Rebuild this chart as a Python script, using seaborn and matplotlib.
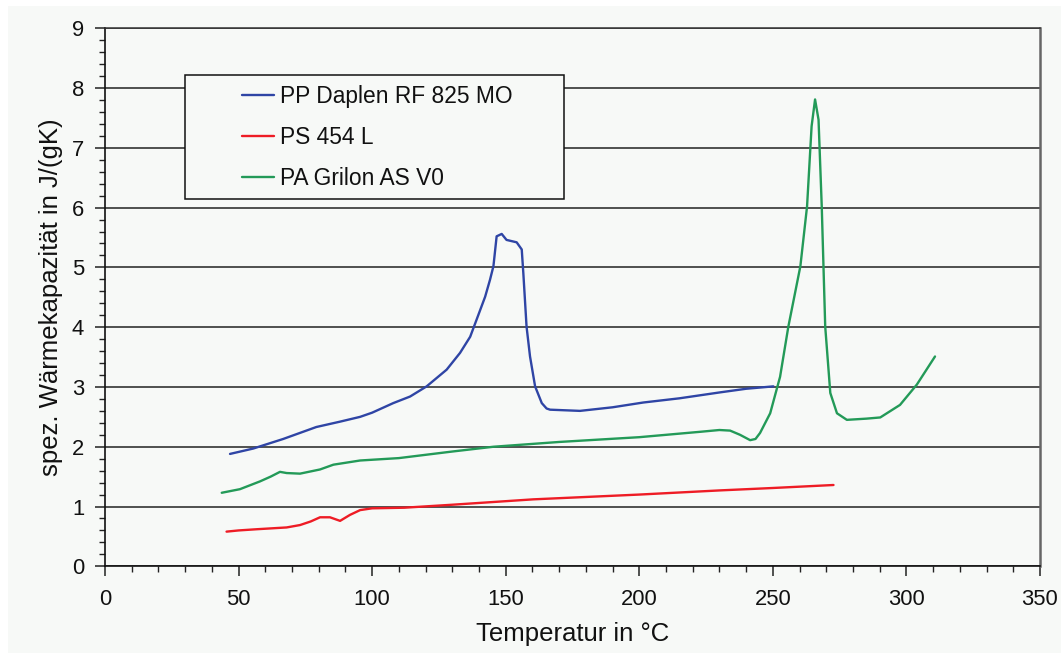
import matplotlib
matplotlib.use("Agg")
import matplotlib.pyplot as plt
from matplotlib.patches import Rectangle
from matplotlib.ticker import MultipleLocator
import seaborn as sns
import pandas as pd

# ---- data ----
pp_label = "PP Daplen RF 825 MO"
pp_x = [46.8, 55.5, 66.7, 79.1, 88.0, 95.5, 100, 107.9, 114.2, 120.4, 127.9, 132.9, 136.7,
        139.8, 142.3, 144.1, 145.4, 146.6, 148.5, 150.3, 154.1, 156.0, 156.6, 157.8, 159.1,
        161.0, 163.5, 165.3, 166.6, 177.8, 190, 201.5, 215, 230.3, 240, 250.2]
pp_y = [1.88, 1.97, 2.13, 2.33, 2.42, 2.50, 2.57, 2.73, 2.84, 3.01, 3.29, 3.57, 3.84,
        4.21, 4.51, 4.79, 5.02, 5.52, 5.56, 5.46, 5.42, 5.30, 4.90, 4.01, 3.51,
        3.01, 2.73, 2.64, 2.62, 2.60, 2.66, 2.74, 2.81, 2.91, 2.97, 3.01]

ps_label = "PS 454 L"
ps_x = [45.5, 50, 56.8, 68.0, 73.0, 77, 80.5, 84.2, 88.0, 91.7, 95.5, 100, 112, 130, 160.3,
        200, 230.3, 250, 272.7]
ps_y = [0.58, 0.60, 0.62, 0.65, 0.69, 0.75, 0.82, 0.82, 0.76, 0.86, 0.94, 0.97, 0.98, 1.03,
        1.12, 1.20, 1.27, 1.31, 1.36]

pa_label = "PA Grilon AS V0"
pa_x = [43.7, 50.5, 58.0, 62, 65.5, 68.0, 73.0, 80.5, 85.5, 95.5, 110, 130, 145.4, 170, 200,
        222.8, 230, 234, 237.7, 241.5, 243.5, 245.2, 249, 252.7, 255.8, 260.3, 262.8, 264.5,
        265.8, 267.1, 268.3, 269.6, 271.5, 274.0, 277.7, 285, 290.2, 297.6, 303.9, 310.7]
pa_y = [1.23, 1.29, 1.42, 1.50, 1.58, 1.56, 1.55, 1.62, 1.70, 1.77, 1.81, 1.92, 2.00, 2.08,
        2.16, 2.25, 2.28, 2.27, 2.20, 2.11, 2.13, 2.23, 2.56, 3.17, 4.01, 5.02, 6.02, 7.36,
        7.81, 7.47, 6.02, 4.01, 2.90, 2.56, 2.45, 2.47, 2.49, 2.70, 3.04, 3.51]

x_label = "Temperatur in °C"
y_label = "spez. Wärmekapazität in J/(gK)"
x_ticks = [0, 50, 100, 150, 200, 250, 300, 350]
y_ticks = [0, 1, 2, 3, 4, 5, 6, 7, 8, 9]

colors = {pp_label: "#2f45a5", ps_label: "#ee1c25", pa_label: "#239a58"}

# ---- style ----
sns.set_theme(style="white")
plt.rcParams["font.family"] = ["Liberation Sans", "DejaVu Sans"]
bg = "#f7f9f7"

W, H = 1061, 653
fig = plt.figure(figsize=(W / 100, H / 100), dpi=100, facecolor="white")
fig.patches.append(Rectangle((8 / W, 0), 1 - 8 / W, 1 - 6 / H, transform=fig.transFigure,
                             facecolor=bg, edgecolor="none", zorder=-10))

ax = fig.add_axes([105 / W, (H - 566.3) / H, (1040 - 105) / W, (566.3 - 28.3) / H])
ax.set_facecolor(bg)

series = [(pp_label, pp_x, pp_y), (ps_label, ps_x, ps_y), (pa_label, pa_x, pa_y)]
for lab, xs, ys in series:
    df = pd.DataFrame({"T": xs, "cp": ys})
    sns.lineplot(data=df, x="T", y="cp", ax=ax, color=colors[lab], lw=1.7, sort=False,
                 estimator=None, label=lab, zorder=5)

ax.set_xlim(0, 350)
ax.set_ylim(0, 9)
ax.set_xticks(x_ticks)
ax.set_yticks(y_ticks)
ax.xaxis.set_minor_locator(MultipleLocator(10))
ax.yaxis.set_minor_locator(MultipleLocator(0.2))
ax.tick_params(axis="both", which="major", direction="out", length=7, width=1.1,
               color="#222222", labelsize=15.8, labelcolor="#111111", bottom=True, left=True)
ax.tick_params(axis="x", which="major", pad=9)
ax.tick_params(axis="y", which="major", pad=8)
ax.tick_params(axis="both", which="minor", direction="out", length=4.5, width=1.0,
               color="#222222", bottom=True, left=True)

ax.yaxis.grid(True, color="#222222", lw=1.1, zorder=1)
ax.set_axisbelow(True)
for s in ["left", "bottom"]:
    ax.spines[s].set_color("#111111")
    ax.spines[s].set_linewidth(1.2)
ax.spines["top"].set_color("#333333")
ax.spines["top"].set_linewidth(1.1)
ax.spines["right"].set_color("#666666")
ax.spines["right"].set_linewidth(1.8)

ax.set_xlabel(x_label, fontsize=18.5, color="#111111", labelpad=9)
ax.set_ylabel(y_label, fontsize=18.5, color="#111111", labelpad=6)

# legend box
ax.add_patch(Rectangle((30, 6.15), 141.8, 2.07, facecolor=bg, edgecolor="#111111", lw=1.1,
                       zorder=3))
h, l = ax.get_legend_handles_labels()
leg = ax.legend(h, l, loc="upper left", bbox_to_anchor=((242 - 105) / 935, (566.3 - 85) / 538),
                frameon=False, fontsize=16.4, borderpad=0, borderaxespad=0,
                handlelength=1.4, handletextpad=0.25, labelspacing=0.80)
leg.set_zorder(6)
for t in leg.get_texts():
    t.set_color("#111111")

fig.savefig("out.png", dpi=100, facecolor=fig.get_facecolor())
